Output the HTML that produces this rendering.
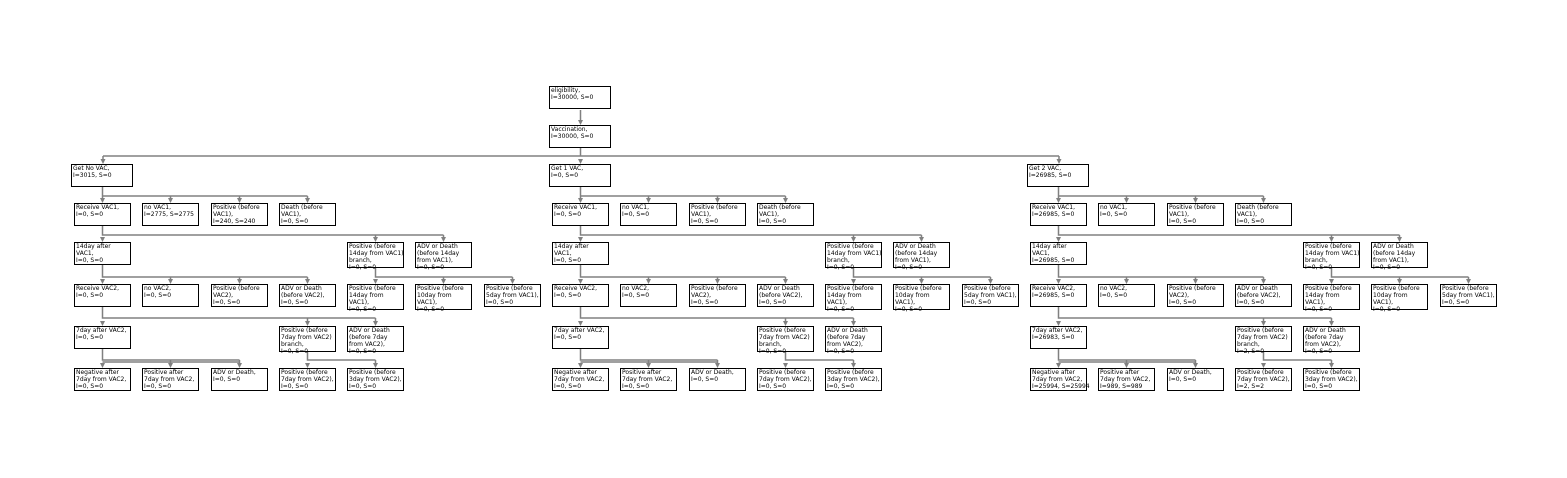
<!DOCTYPE html>
<html><head><meta charset="utf-8"><style>
html,body{margin:0;padding:0;background:#fff;}
body{width:1567px;height:478px;position:relative;overflow:hidden;font-family:"DejaVu Sans","Liberation Sans",sans-serif;}
.b{position:absolute;width:54px;height:20px;border:1.6px solid #000;background:#fff;font-size:6px;line-height:6.9px;padding:1px 0 0 1px;color:#000;white-space:nowrap;z-index:2;}
.w{width:59px;}
.t{height:23px;}
svg{position:absolute;left:0;top:0;z-index:1;}
</style></head><body>
<svg width="1567" height="478" viewBox="0 0 1567 478">
<defs>
<g id="t">
<g fill="none" stroke="#808080" stroke-width="1.5">
<path d="M102.5,187V196H307.5M102.5,196V199M170.5,196V199M239.5,196V199M307.5,196V199"/>
<path d="M102.5,226V235H443.5M375.5,235V238M443.5,235V238"/>
<path d="M102.5,265V277H307.5M170.5,277V280M239.5,277V280M307.5,277V280"/>
<path d="M375.5,268V277H512.5M443.5,277V280M512.5,277V280"/>
<path d="M102.5,307V318H375.5M307.5,318V322M375.5,318V322"/>
<path d="M102.5,349V360H239.5M102.5,362H239.5M170.5,360V364M239.5,360V364"/>
<path d="M307.5,352V360H375.5M375.5,360V364"/>
</g>
<path fill="#808080" d="M100,198h5l-2.5,5zM168,198h5l-2.5,5zM237,198h5l-2.5,5zM305,198h5l-2.5,5z
M100,237h5l-2.5,5zM373,237h5l-2.5,5zM441,237h5l-2.5,5z
M100,279h5l-2.5,5zM168,279h5l-2.5,5zM237,279h5l-2.5,5zM305,279h5l-2.5,5zM373,279h5l-2.5,5zM441,279h5l-2.5,5zM510,279h5l-2.5,5z
M100,321h5l-2.5,5zM305,321h5l-2.5,5zM373,321h5l-2.5,5z
M100,363h5l-2.5,5zM168,363h5l-2.5,5zM237,363h5l-2.5,5zM305,363h5l-2.5,5zM373,363h5l-2.5,5z"/>
</g>
</defs>
<use href="#t"/>
<use href="#t" x="478"/>
<use href="#t" x="956"/>
<g fill="none" stroke="#808080" stroke-width="1.5">
<path d="M580.5,110V121M580.5,148V156M103,156H1059M103,156V160M1059,156V160"/>
</g>
<path fill="#808080" d="M578,120h5l-2.5,5zM100.5,159h5l-2.5,5zM578,159h5l-2.5,5zM1056.5,159h5l-2.5,5z"/>
</svg>

<div class="b w" style="left:549px;top:86px">eligibility,<br>I=30000, S=0</div>
<div class="b w" style="left:549px;top:125px">Vaccination,<br>I=30000, S=0</div>

<!-- Subtree A -->
<div class="b w" style="left:71px;top:164px">Get No VAC,<br>I=3015, S=0</div>
<div class="b" style="left:74px;top:203px">Receive VAC1,<br>I=0, S=0</div>
<div class="b" style="left:142px;top:203px">no VAC1,<br>I=2775, S=2775</div>
<div class="b" style="left:211px;top:203px">Positive (before<br>VAC1),<br>I=240, S=240</div>
<div class="b" style="left:279px;top:203px">Death (before<br>VAC1),<br>I=0, S=0</div>
<div class="b" style="left:74px;top:242px">14day after<br>VAC1,<br>I=0, S=0</div>
<div class="b t" style="left:347px;top:242px">Positive (before<br>14day from VAC1)<br>branch,<br>I=0, S=0</div>
<div class="b t" style="left:415px;top:242px">ADV or Death<br>(before 14day<br>from VAC1),<br>I=0, S=0</div>
<div class="b" style="left:74px;top:284px">Receive VAC2,<br>I=0, S=0</div>
<div class="b" style="left:142px;top:284px">no VAC2,<br>I=0, S=0</div>
<div class="b" style="left:211px;top:284px">Positive (before<br>VAC2),<br>I=0, S=0</div>
<div class="b" style="left:279px;top:284px">ADV or Death<br>(before VAC2),<br>I=0, S=0</div>
<div class="b t" style="left:347px;top:284px">Positive (before<br>14day from<br>VAC1),<br>I=0, S=0</div>
<div class="b t" style="left:415px;top:284px">Positive (before<br>10day from<br>VAC1),<br>I=0, S=0</div>
<div class="b" style="left:484px;top:284px">Positive (before<br>5day from VAC1),<br>I=0, S=0</div>
<div class="b" style="left:74px;top:326px">7day after VAC2,<br>I=0, S=0</div>
<div class="b t" style="left:279px;top:326px">Positive (before<br>7day from VAC2)<br>branch,<br>I=0, S=0</div>
<div class="b t" style="left:347px;top:326px">ADV or Death<br>(before 7day<br>from VAC2),<br>I=0, S=0</div>
<div class="b" style="left:74px;top:368px">Negative after<br>7day from VAC2,<br>I=0, S=0</div>
<div class="b" style="left:142px;top:368px">Positive after<br>7day from VAC2,<br>I=0, S=0</div>
<div class="b" style="left:211px;top:368px">ADV or Death,<br>I=0, S=0</div>
<div class="b" style="left:279px;top:368px">Positive (before<br>7day from VAC2),<br>I=0, S=0</div>
<div class="b" style="left:347px;top:368px">Positive (before<br>3day from VAC2),<br>I=0, S=0</div>

<!-- Subtree B -->
<div class="b w" style="left:549px;top:164px">Get 1 VAC,<br>I=0, S=0</div>
<div class="b" style="left:552px;top:203px">Receive VAC1,<br>I=0, S=0</div>
<div class="b" style="left:620px;top:203px">no VAC1,<br>I=0, S=0</div>
<div class="b" style="left:689px;top:203px">Positive (before<br>VAC1),<br>I=0, S=0</div>
<div class="b" style="left:757px;top:203px">Death (before<br>VAC1),<br>I=0, S=0</div>
<div class="b" style="left:552px;top:242px">14day after<br>VAC1,<br>I=0, S=0</div>
<div class="b t" style="left:825px;top:242px">Positive (before<br>14day from VAC1)<br>branch,<br>I=0, S=0</div>
<div class="b t" style="left:893px;top:242px">ADV or Death<br>(before 14day<br>from VAC1),<br>I=0, S=0</div>
<div class="b" style="left:552px;top:284px">Receive VAC2,<br>I=0, S=0</div>
<div class="b" style="left:620px;top:284px">no VAC2,<br>I=0, S=0</div>
<div class="b" style="left:689px;top:284px">Positive (before<br>VAC2),<br>I=0, S=0</div>
<div class="b" style="left:757px;top:284px">ADV or Death<br>(before VAC2),<br>I=0, S=0</div>
<div class="b t" style="left:825px;top:284px">Positive (before<br>14day from<br>VAC1),<br>I=0, S=0</div>
<div class="b t" style="left:893px;top:284px">Positive (before<br>10day from<br>VAC1),<br>I=0, S=0</div>
<div class="b" style="left:962px;top:284px">Positive (before<br>5day from VAC1),<br>I=0, S=0</div>
<div class="b" style="left:552px;top:326px">7day after VAC2,<br>I=0, S=0</div>
<div class="b t" style="left:757px;top:326px">Positive (before<br>7day from VAC2)<br>branch,<br>I=0, S=0</div>
<div class="b t" style="left:825px;top:326px">ADV or Death<br>(before 7day<br>from VAC2),<br>I=0, S=0</div>
<div class="b" style="left:552px;top:368px">Negative after<br>7day from VAC2,<br>I=0, S=0</div>
<div class="b" style="left:620px;top:368px">Positive after<br>7day from VAC2,<br>I=0, S=0</div>
<div class="b" style="left:689px;top:368px">ADV or Death,<br>I=0, S=0</div>
<div class="b" style="left:757px;top:368px">Positive (before<br>7day from VAC2),<br>I=0, S=0</div>
<div class="b" style="left:825px;top:368px">Positive (before<br>3day from VAC2),<br>I=0, S=0</div>

<!-- Subtree C -->
<div class="b w" style="left:1027px;top:164px">Get 2 VAC,<br>I=26985, S=0</div>
<div class="b" style="left:1030px;top:203px">Receive VAC1,<br>I=26985, S=0</div>
<div class="b" style="left:1098px;top:203px">no VAC1,<br>I=0, S=0</div>
<div class="b" style="left:1167px;top:203px">Positive (before<br>VAC1),<br>I=0, S=0</div>
<div class="b" style="left:1235px;top:203px">Death (before<br>VAC1),<br>I=0, S=0</div>
<div class="b" style="left:1030px;top:242px">14day after<br>VAC1,<br>I=26985, S=0</div>
<div class="b t" style="left:1303px;top:242px">Positive (before<br>14day from VAC1)<br>branch,<br>I=0, S=0</div>
<div class="b t" style="left:1371px;top:242px">ADV or Death<br>(before 14day<br>from VAC1),<br>I=0, S=0</div>
<div class="b" style="left:1030px;top:284px">Receive VAC2,<br>I=26985, S=0</div>
<div class="b" style="left:1098px;top:284px">no VAC2,<br>I=0, S=0</div>
<div class="b" style="left:1167px;top:284px">Positive (before<br>VAC2),<br>I=0, S=0</div>
<div class="b" style="left:1235px;top:284px">ADV or Death<br>(before VAC2),<br>I=0, S=0</div>
<div class="b t" style="left:1303px;top:284px">Positive (before<br>14day from<br>VAC1),<br>I=0, S=0</div>
<div class="b t" style="left:1371px;top:284px">Positive (before<br>10day from<br>VAC1),<br>I=0, S=0</div>
<div class="b" style="left:1440px;top:284px">Positive (before<br>5day from VAC1),<br>I=0, S=0</div>
<div class="b" style="left:1030px;top:326px">7day after VAC2,<br>I=26983, S=0</div>
<div class="b t" style="left:1235px;top:326px">Positive (before<br>7day from VAC2)<br>branch,<br>I=2, S=0</div>
<div class="b t" style="left:1303px;top:326px">ADV or Death<br>(before 7day<br>from VAC2),<br>I=0, S=0</div>
<div class="b" style="left:1030px;top:368px">Negative after<br>7day from VAC2,<br>I=25994, S=25994</div>
<div class="b" style="left:1098px;top:368px">Positive after<br>7day from VAC2,<br>I=989, S=989</div>
<div class="b" style="left:1167px;top:368px">ADV or Death,<br>I=0, S=0</div>
<div class="b" style="left:1235px;top:368px">Positive (before<br>7day from VAC2),<br>I=2, S=2</div>
<div class="b" style="left:1303px;top:368px">Positive (before<br>3day from VAC2),<br>I=0, S=0</div>
</body></html>
